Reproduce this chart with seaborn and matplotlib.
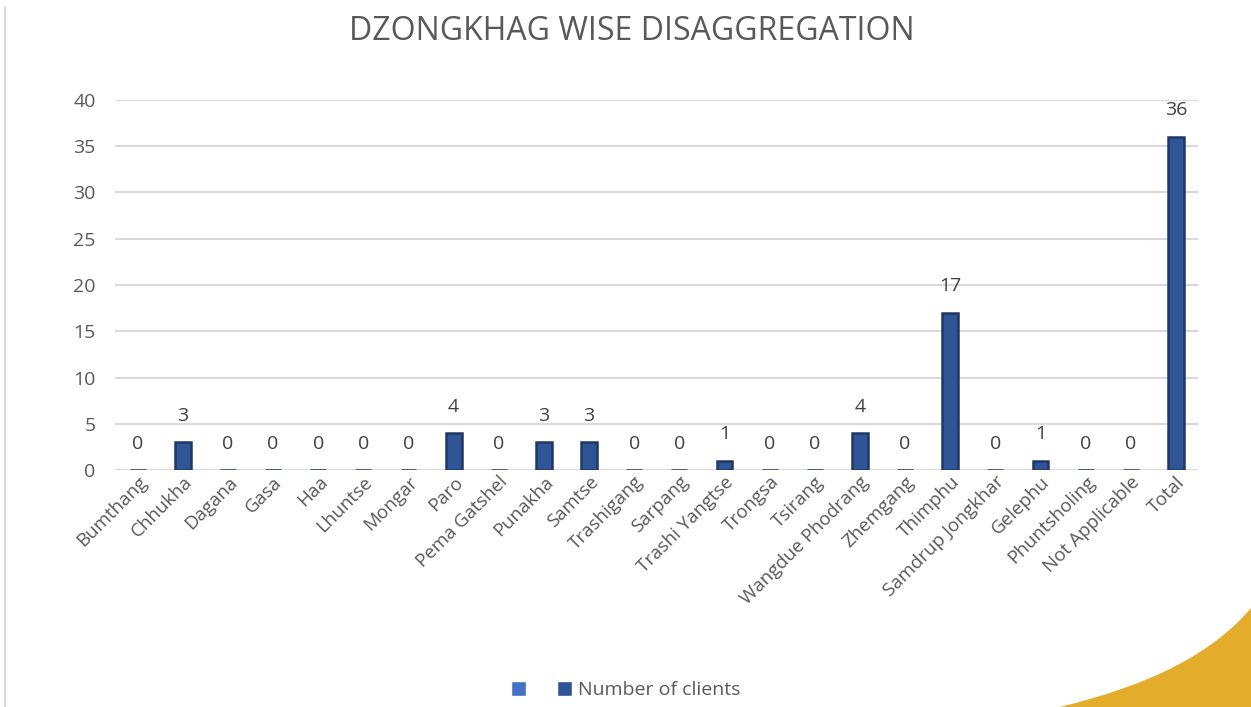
import matplotlib
matplotlib.use("Agg")
import matplotlib.pyplot as plt
import seaborn as sns
import pandas as pd
from matplotlib.patches import Patch, PathPatch
from matplotlib.path import Path
from matplotlib.lines import Line2D

# chart data
dzongkhags = ["Bumthang", "Chhukha", "Dagana", "Gasa", "Haa", "Lhuntse", "Mongar",
              "Paro", "Pema Gatshel", "Punakha", "Samtse", "Trashigang", "Sarpang",
              "Trashi Yangtse", "Trongsa", "Tsirang", "Wangdue Phodrang", "Zhemgang",
              "Thimphu", "Samdrup Jongkhar", "Gelephu", "Phuntsholing",
              "Not Applicable", "Total"]
clients = [0, 3, 0, 0, 0, 0, 0, 4, 0, 3, 3, 0, 0, 1, 0, 0, 4, 0, 17, 0, 1, 0, 0, 36]
y_ticks = [0, 5, 10, 15, 20, 25, 30, 35, 40]

df = pd.DataFrame({"Dzongkhag": dzongkhags, "Clients": clients})

sns.set_style("white")
plt.rcParams["font.family"] = ["Open Sans", "DejaVu Sans"]

fig = plt.figure(figsize=(12.51, 7.07), dpi=100)
ax = fig.add_axes([0.092, 0.335, 0.866, 0.524])

sns.barplot(data=df, x="Dzongkhag", y="Clients", ax=ax, width=0.35,
            color="#2F5597", edgecolor="#1F3864", linewidth=1.8, saturation=1)

ax.set_ylim(0, 40)
ax.set_xlim(-0.5, len(dzongkhags) - 0.5)
ax.set_yticks(y_ticks)
ax.yaxis.grid(True, color="#D9D9D9", linewidth=1.5)
ax.set_axisbelow(True)
for s in ax.spines.values():
    s.set_visible(False)

ax.tick_params(axis="y", labelsize=14, labelcolor="#595959", length=0, pad=14)
ax.tick_params(axis="x", labelsize=13.5, labelcolor="#595959", length=0, pad=2)
plt.setp(ax.get_xticklabels(), rotation=45, ha="right", rotation_mode="anchor")
ax.set_xlabel("")
ax.set_ylabel("")

for i, v in enumerate(clients):
    ax.text(i, v + 1.9, str(v), ha="center", va="bottom", fontsize=14,
            color="#404040", clip_on=False)

fig.text(0.505, 0.955, "DZONGKHAG WISE DISAGGREGATION", ha="center", va="center",
         fontsize=23, color="#595959")

handles = [Patch(facecolor="#4472C4", label=" "),
           Patch(facecolor="#2F5597", label="Number of clients")]
fig.legend(handles=handles, loc="center", bbox_to_anchor=(0.5, 0.024), ncol=2,
           frameon=False, fontsize=14, handlelength=0.8, handleheight=0.8,
           handletextpad=0.3, columnspacing=1.0, labelcolor="#595959")

# slide decorations
fig.add_artist(Line2D([0.004, 0.004], [0.0, 0.99], color="#D9D9D9", lw=1.5,
                      transform=fig.transFigure))
verts = [(0.847, 0.0), (0.955, 0.045), (1.0, 0.14), (1.0, 0.0), (0.847, 0.0)]
codes = [Path.MOVETO, Path.CURVE3, Path.CURVE3, Path.LINETO, Path.CLOSEPOLY]
fig.add_artist(PathPatch(Path(verts, codes), facecolor="#E3AC2A", edgecolor="none",
                         transform=fig.transFigure))

fig.savefig("out.png", dpi=100)
